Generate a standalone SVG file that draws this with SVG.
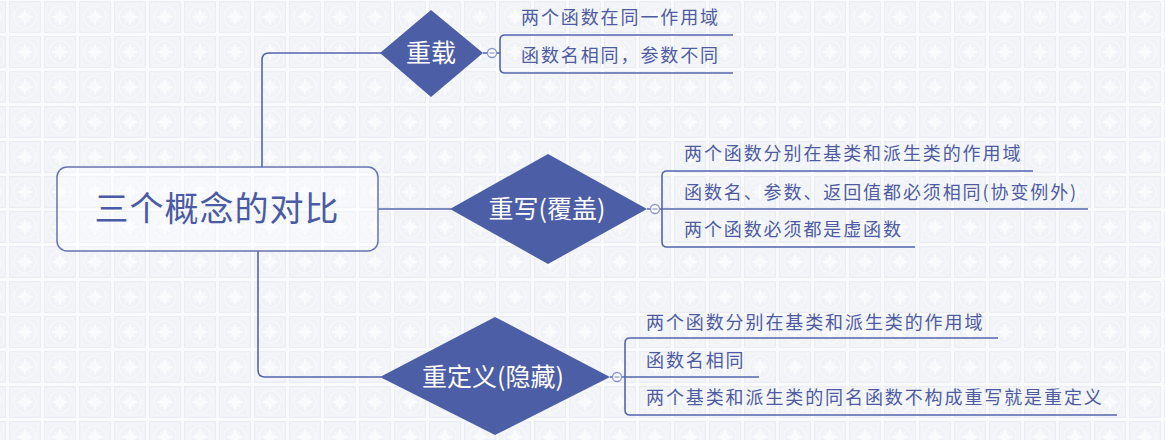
<svg xmlns="http://www.w3.org/2000/svg" width="1165" height="440" viewBox="0 0 1165 440">
<defs>
<pattern id="tile" x="8" y="0" width="35" height="35" patternUnits="userSpaceOnUse">
<rect width="35" height="35" fill="#f9fafc"/>
<rect x="1.5" y="1.5" width="31" height="31" fill="#f0f3f7" stroke="#e8edf2" stroke-width="0.8"/>
<rect x="4" y="4" width="26" height="26" fill="none" stroke="#f8f9fb" stroke-width="0.8"/>
<circle cx="17" cy="17" r="11" fill="none" stroke="#f8f9fb" stroke-width="1.2"/>
<path d="M17 8 L19.5 14.5 L26 17 L19.5 19.5 L17 26 L14.5 19.5 L8 17 L14.5 14.5 Z" fill="#fafbfd"/>
<path d="M12 12 L22 22 M22 12 L12 22" stroke="#f9fafc" stroke-width="1.6"/>
</pattern>
<style>
.conn{fill:none;stroke:#5466ad;stroke-width:1.6}
.dot{fill:#ffffff;stroke:#8a96c8;stroke-width:1.3}
.minus{stroke:#8a96c8;stroke-width:1.2}
.diamond{fill:#4c5ea5}
.dtext{font-family:"Noto Sans CJK SC","Noto Sans",sans-serif;font-size:25px;fill:#ffffff;text-anchor:middle}
.leaf{font-family:"Noto Sans CJK SC","Noto Sans",sans-serif;font-size:18px;fill:#4e5ba2;letter-spacing:1.9px}
.root{font-family:"Noto Sans CJK SC","Noto Sans",sans-serif;font-size:34px;fill:#4a5aa3;text-anchor:middle;letter-spacing:1px}
</style>
</defs>
<rect width="1165" height="440" fill="url(#tile)"/>

<g id="connectors">
<path class="conn" d="M262 167 V60 Q262 53 269 53 H381"/>
<path class="conn" d="M378 209 H451"/>
<path class="conn" d="M258 251 V370 Q258 377 265 377 H381"/>
<path class="conn" d="M483 53 H500"/>
<path class="conn" d="M733 35 H505 Q500 35 500 40 V68 Q500 73 505 73 H733"/>
<path class="conn" d="M647 209 H1088"/>
<path class="conn" d="M1033 171 H667 Q662 171 662 176 V242 Q662 247 667 247 H915"/>
<path class="conn" d="M610 377 H759"/>
<path class="conn" d="M998 338 H630 Q625 338 625 343 V410 Q625 415 630 415 H1117"/>
</g>

<g id="root">
<rect x="57" y="167" width="321" height="84" rx="10" fill="#ffffff" fill-opacity="0.35" stroke="#6573b3" stroke-width="1.5"/>
<text class="root" x="217" y="221">三个概念的对比</text>
</g>

<g id="overload">
<polygon class="diamond" points="380,53 431,10 483,53 431,97"/>
<text class="dtext" x="431" y="62">重载</text>
<circle class="dot" cx="492" cy="53" r="4.5"/>
<line class="minus" x1="489.5" y1="53" x2="494.5" y2="53"/>
</g>

<g id="override">
<polygon class="diamond" points="450,209 548,154 647,209 548,264"/>
<text class="dtext" x="547" y="218">重写(覆盖)</text>
<circle class="dot" cx="655" cy="209" r="4.5"/>
<line class="minus" x1="652.5" y1="209" x2="657.5" y2="209"/>
</g>

<g id="redefine">
<polygon class="diamond" points="380,377 495,317 610,377 495,435"/>
<text class="dtext" x="493" y="386">重定义(隐藏)</text>
<circle class="dot" cx="617" cy="377" r="4.5"/>
<line class="minus" x1="614.5" y1="377" x2="619.5" y2="377"/>
</g>

<g id="leaf-overload-1"><text class="leaf" x="521" y="24">两个函数在同一作用域</text></g>
<g id="leaf-overload-2"><text class="leaf" x="521" y="62">函数名相同，参数不同</text></g>

<g id="leaf-override-1"><text class="leaf" x="684" y="160">两个函数分别在基类和派生类的作用域</text></g>
<g id="leaf-override-2"><text class="leaf" x="684" y="199">函数名、参数、返回值都必须相同(协变例外)</text></g>
<g id="leaf-override-3"><text class="leaf" x="684" y="236">两个函数必须都是虚函数</text></g>

<g id="leaf-redefine-1"><text class="leaf" x="646" y="329">两个函数分别在基类和派生类的作用域</text></g>
<g id="leaf-redefine-2"><text class="leaf" x="646" y="367">函数名相同</text></g>
<g id="leaf-redefine-3"><text class="leaf" x="646" y="404">两个基类和派生类的同名函数不构成重写就是重定义</text></g>
</svg>
